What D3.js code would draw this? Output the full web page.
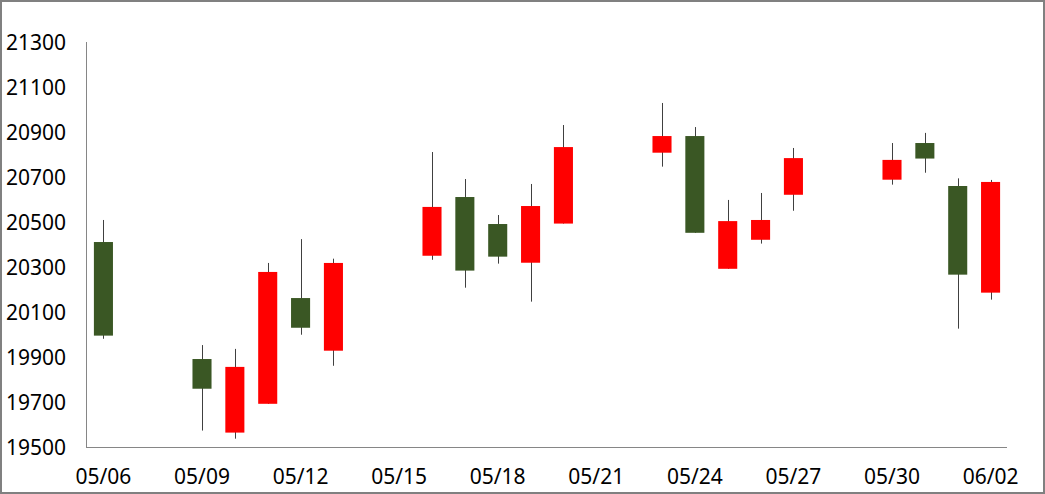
<!DOCTYPE html>
<html>
<head>
<meta charset="utf-8">
<script src="https://cdnjs.cloudflare.com/ajax/libs/d3/7.8.5/d3.min.js"></script>
<style>
  html, body { margin: 0; padding: 0; background: #fff; }
  svg { display: block; }
  text { font-family: "Noto Sans", "Open Sans", sans-serif; }
</style>
</head>
<body>
<svg id="chart" width="1045" height="494"></svg>
<script>
const dates = ["05/06","05/07","05/08","05/09","05/10","05/11","05/12","05/13","05/14","05/15",
  "05/16","05/17","05/18","05/19","05/20","05/21","05/22","05/23","05/24","05/25","05/26",
  "05/27","05/28","05/29","05/30","05/31","06/01","06/02"];
const openV  = [20411,null,null,19891,19564,19692,20162,19928,null,null,20350,20611,20491,20319,20493,null,null,20808,20882,20292,20421,20621,null,null,20688,20851,20660,20186];
const highV  = [20509,null,null,19953,19936,20318,20424,20337,null,null,20811,20691,20531,20669,20931,null,null,21029,20922,20598,20629,20829,null,null,20851,20896,20694,20687];
const lowV   = [19981,null,null,19573,19537,19692,19999,19861,null,null,20332,20208,20315,20146,20493,null,null,20746,20452,20292,20404,20550,null,null,20666,20719,20026,20155];
const closeV = [19995,null,null,19759,19856,20278,20030,20318,null,null,20567,20284,20346,20571,20833,null,null,20882,20452,20504,20509,20784,null,null,20776,20782,20266,20678];
const yTicks = [19500,19700,19900,20100,20300,20500,20700,20900,21100,21300];
const xTickLabels = ["05/06","05/09","05/12","05/15","05/18","05/21","05/24","05/27","05/30","06/02"];

const upColor = "#ff0000", downColor = "#3a5724", wickColor = "#404040", axisColor = "#868686";

const svg = d3.select("#chart");
svg.append("rect").attr("x",1).attr("y",1).attr("width",1043).attr("height",492)
  .attr("fill","#fff").attr("stroke","#808080").attr("stroke-width",2);

const x = d3.scaleBand().domain(dates).range([87, 1007]).paddingInner(0.42).paddingOuter(0.21);
const y = d3.scaleLinear().domain([19500, 21300]).range([447, 42]);

const data = dates.map((d,i)=>({date:d,o:openV[i],h:highV[i],l:lowV[i],c:closeV[i]})).filter(d=>d.o!==null);

// axes
svg.append("line").attr("x1",86.5).attr("x2",86.5).attr("y1",y(21300)).attr("y2",y(19500)+0.5)
  .attr("stroke",axisColor).attr("stroke-width",1);
svg.append("line").attr("x1",86).attr("x2",1007).attr("y1",447.5).attr("y2",447.5)
  .attr("stroke",axisColor).attr("stroke-width",1);

svg.append("g").selectAll("text").data(yTicks).join("text")
  .attr("x",66).attr("y",d=>y(d)).attr("dy","0.36em").attr("text-anchor","end")
  .attr("font-size",21).attr("fill","#000").text(d=>d);

svg.append("g").selectAll("text").data(xTickLabels).join("text")
  .attr("x",d=>x(d)+x.bandwidth()/2).attr("y",476.5).attr("dy","0.36em").attr("text-anchor","middle")
  .attr("font-size",21).attr("fill","#000").text(d=>d);

const g = svg.append("g");
g.selectAll("line.wick").data(data).join("line").attr("class","wick")
  .attr("x1",d=>Math.round(x(d.date)+x.bandwidth()/2)+0.5)
  .attr("x2",d=>Math.round(x(d.date)+x.bandwidth()/2)+0.5)
  .attr("y1",d=>y(d.h)).attr("y2",d=>y(d.l))
  .attr("stroke",wickColor).attr("stroke-width",1);
g.selectAll("rect.body").data(data).join("rect").attr("class","body")
  .attr("x",d=>x(d.date)).attr("width",x.bandwidth())
  .attr("y",d=>y(Math.max(d.o,d.c))).attr("height",d=>Math.abs(y(d.o)-y(d.c)))
  .attr("fill",d=>d.c>=d.o?upColor:downColor);
</script>
</body>
</html>
